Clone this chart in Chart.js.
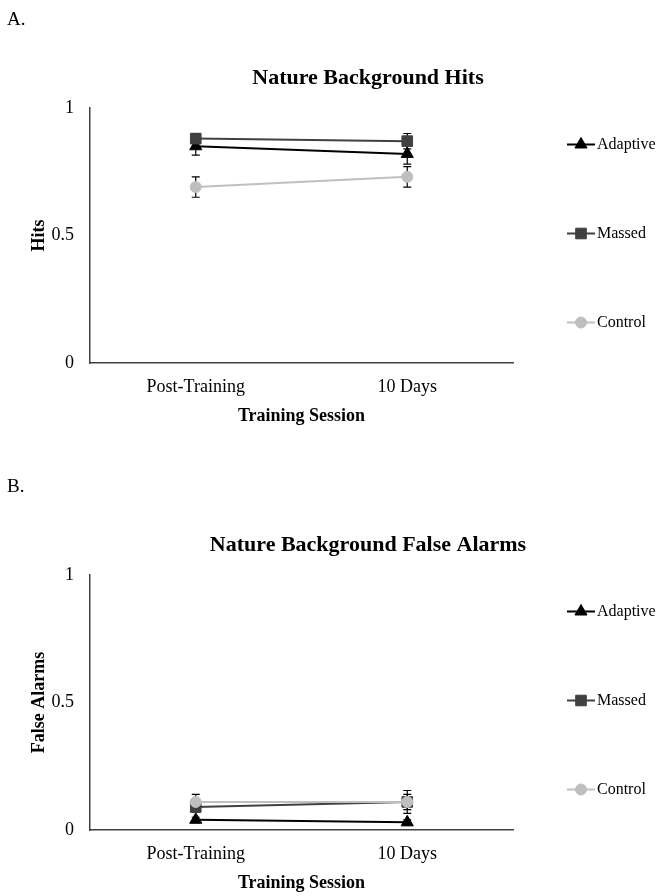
<!DOCTYPE html>
<html>
<head>
<meta charset="utf-8">
<script src="https://cdn.jsdelivr.net/npm/chart.js@4.4.0/dist/chart.umd.min.js"></script>
<style>
body { margin: 0; background: #fff; width: 660px; height: 896px; position: relative; overflow: hidden; }
canvas { position: absolute; left: 0; }
#hits { top: 0; }
#falseAlarms { top: 467px; }
</style>
</head>
<body>
<canvas id="hits" width="660" height="429"></canvas>
<canvas id="falseAlarms" width="660" height="429"></canvas>
<script>
/* data */
const sessions = ['Post-Training', '10 Days'];
const groups = ['Adaptive', 'Massed', 'Control'];

const hitsAdaptive = [0.85, 0.82];
const hitsAdaptiveErr = [0.035, 0.04];
const hitsMassed = [0.88, 0.87];
const hitsMassedErr = [0.02, 0.03];
const hitsControl = [0.69, 0.73];
const hitsControlErr = [0.04, 0.04];

const faAdaptive = [0.04, 0.03];
const faAdaptiveErr = [0.01, 0.01];
const faMassed = [0.09, 0.11];
const faMassedErr = [0.02, 0.03];
const faControl = [0.11, 0.11];
const faControlErr = [0.03, 0.045];

/*______*/

const serif = '"Liberation Serif", "Times New Roman", serif';
const colours = ['#000000', '#404040', '#bfbfbf'];
const markers = ['triangle', 'rect', 'circle'];
const markerSize = [7, 7.5, 5.5];

// error bars go under the markers
const errorBars = {
    id: 'errorBars',
    beforeDatasetsDraw(chart) {
        const ctx = chart.ctx;
        const y = chart.scales.y;
        chart.data.datasets.forEach((ds, i) => {
            chart.getDatasetMeta(i).data.forEach((pt, j) => {
                const top = y.getPixelForValue(ds.data[j] + ds.errors[j]);
                const bot = y.getPixelForValue(ds.data[j] - ds.errors[j]);
                ctx.save();
                ctx.strokeStyle = '#000';
                ctx.lineWidth = 1.2;
                ctx.beginPath();
                ctx.moveTo(pt.x, top); ctx.lineTo(pt.x, bot);
                ctx.moveTo(pt.x - 4, top); ctx.lineTo(pt.x + 4, top);
                ctx.moveTo(pt.x - 4, bot); ctx.lineTo(pt.x + 4, bot);
                ctx.stroke();
                ctx.restore();
            });
        });
    }
};

// legend on the right, spread out like the excel one
const sideLegend = {
    id: 'sideLegend',
    afterDraw(chart) {
        const ctx = chart.ctx;
        const area = chart.chartArea;
        const mid = (area.top + area.bottom) / 2 - 2;
        const x0 = area.right + 54;
        chart.data.datasets.forEach((ds, i) => {
            const yy = mid + (i - 1) * 89;
            ctx.save();
            ctx.strokeStyle = ds.borderColor;
            ctx.lineWidth = 2;
            ctx.beginPath();
            ctx.moveTo(x0, yy);
            ctx.lineTo(x0 + 28, yy);
            ctx.stroke();
            ctx.fillStyle = ds.backgroundColor;
            ctx.lineWidth = 1;
            Chart.helpers.drawPoint(ctx, { pointStyle: ds.pointStyle, radius: ds.pointRadius, borderWidth: 1, rotation: 0 }, x0 + 14, yy);
            ctx.fillStyle = '#000';
            ctx.font = '16px ' + serif;
            ctx.textBaseline = 'middle';
            ctx.textAlign = 'left';
            ctx.fillText(ds.label, x0 + 30, yy);
            ctx.restore();
        });
    }
};

const panelText = {
    id: 'panelText',
    afterDraw(chart, args, opts) {
        const ctx = chart.ctx;
        ctx.save();
        ctx.fillStyle = '#000';
        ctx.textBaseline = 'middle';
        ctx.font = '19px ' + serif;
        ctx.textAlign = 'left';
        ctx.fillText(opts.letter, 7, 20);
        ctx.font = 'bold 22px ' + serif;
        ctx.textAlign = 'center';
        ctx.fillText(opts.title, 368, 78);
        ctx.restore();
    }
};

function makeSets(values, errors) {
    return groups.map((g, i) => ({
        label: g,
        data: values[i],
        errors: errors[i],
        borderColor: colours[i],
        backgroundColor: colours[i],
        borderWidth: 2,
        pointStyle: markers[i],
        pointRadius: markerSize[i],
        pointBorderWidth: 1,
        tension: 0,
        order: groups.length - 1 - i   // later series on top, like excel
    }));
}

function drawPanel(id, letter, title, yTitle, values, errors) {
    return new Chart(document.getElementById(id), {
        type: 'line',
        data: {
            labels: sessions,
            datasets: makeSets(values, errors)
        },
        options: {
            responsive: false,
            animation: false,
            events: [],
            layout: { padding: { left: 0, right: 147, top: 108, bottom: 2 } },
            scales: {
                x: {
                    offset: true,
                    grid: { display: false, drawTicks: false },
                    border: { display: true, color: '#404040', width: 1.5 },
                    ticks: { color: '#000', padding: 13, font: { family: serif, size: 18 } },
                    title: { display: true, text: 'Training Session', color: '#000', padding: 0, font: { family: serif, size: 18, weight: 'bold' } },
                    afterFit(scale) { scale.height = 64; }
                },
                y: {
                    min: 0,
                    max: 1,
                    grid: { display: false, drawTicks: false },
                    border: { display: true, color: '#404040', width: 1.5 },
                    ticks: {
                        stepSize: 0.5, color: '#000', padding: 16, font: { family: serif, size: 18 },
                        callback: (v) => String(v)
                    },
                    title: { display: true, text: yTitle, color: '#000', padding: { top: 29, bottom: 0 }, font: { family: serif, size: 18, weight: 'bold' } },
                    afterFit(scale) { scale.width = 90; }
                }
            },
            plugins: {
                legend: { display: false },
                tooltip: { enabled: false },
                panelText: { letter: letter, title: title }
            }
        },
        plugins: [errorBars, sideLegend, panelText]
    });
}

drawPanel('hits', 'A.', 'Nature Background Hits', 'Hits',
    [hitsAdaptive, hitsMassed, hitsControl],
    [hitsAdaptiveErr, hitsMassedErr, hitsControlErr]);

drawPanel('falseAlarms', 'B.', 'Nature Background False Alarms', 'False Alarms',
    [faAdaptive, faMassed, faControl],
    [faAdaptiveErr, faMassedErr, faControlErr]);
</script>
</body>
</html>
